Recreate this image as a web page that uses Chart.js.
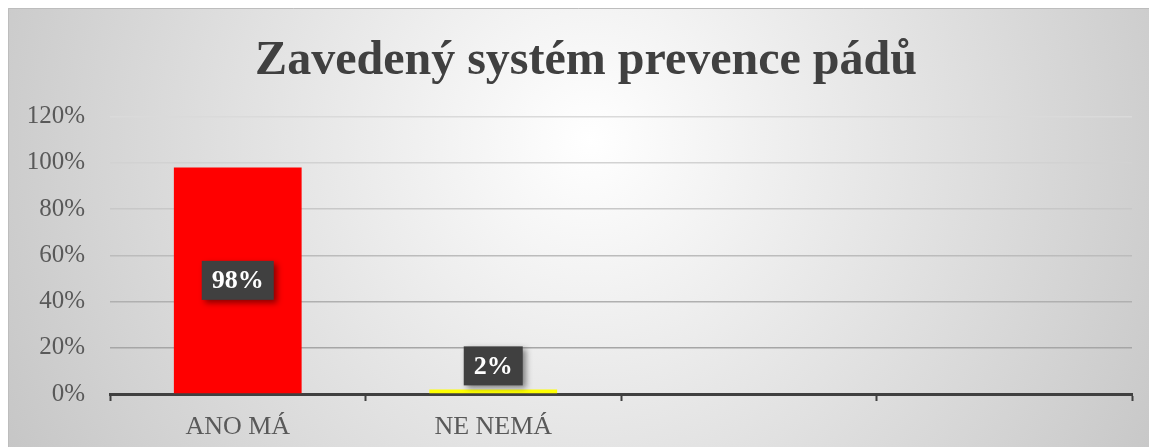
<!DOCTYPE html>
<html>
<head>
<meta charset="utf-8">
<script src="https://cdn.jsdelivr.net/npm/chart.js@4/dist/chart.umd.min.js"></script>
<style>
  html, body { margin: 0; padding: 0; background: #fff; }
  #wrap { width: 1149px; height: 447px; }
</style>
</head>
<body>
<div id="wrap"><canvas id="prevChart"></canvas></div>
<script>
// --- data ---
const kategorie = ['ANO MÁ', 'NE NEMÁ', '', ''];
const hodnoty = [98, 2, null, null];
const barvy = ['#ff0000', '#ffff00', '#ff0000', '#ff0000'];
const osaY = { min: 0, max: 120, krok: 20 };

const SERIF = '"Liberation Serif", "Times New Roman", serif';
const gridBarvy = ['#a0a0a0', '#a6a6a6', '#b0b0b0', '#bcbcbc', '#c8c8c8', '#d2d2d2', '#dadada'];

// pozadi s prechodem + ramecek
const pozadi = {
  id: 'pozadi',
  afterLayout(chart) {
    // nadpis je v originale posunuty trochu doprava
    const t = chart.titleBlock;
    if (t) { t.left += 16; t.right += 16; }
  },
  beforeDraw(chart) {
    const c = chart.ctx;
    c.save();
    c.fillStyle = '#ffffff';
    c.fillRect(0, 0, chart.width, chart.height);
    const g = c.createRadialGradient(590, 140, 0, 590, 140, 660);
    g.addColorStop(0, '#ffffff');
    g.addColorStop(1, '#c6c6c6');
    c.fillStyle = g;
    c.fillRect(8, 8, chart.width - 8, chart.height - 8);
    c.strokeStyle = '#bdbdbd';
    c.lineWidth = 1;
    c.beginPath();
    c.moveTo(8.5, chart.height);
    c.lineTo(8.5, 8.5);
    c.lineTo(chart.width, 8.5);
    c.stroke();
    c.restore();
  }
};

// popisky hodnot v tmavem boxu
const popisky = {
  id: 'popisky',
  afterDatasetsDraw(chart) {
    const c = chart.ctx;
    const meta = chart.getDatasetMeta(0);
    c.save();
    c.font = 'bold 26px ' + SERIF;
    c.textAlign = 'center';
    c.textBaseline = 'middle';
    meta.data.forEach((bar, i) => {
      const v = hodnoty[i];
      if (v == null) return;
      const txt = v + '%';
      const w = c.measureText(txt).width + 20;
      const h = 39;
      const vyska = bar.base - bar.y;
      let cy = (bar.y + bar.base) / 2;
      if (vyska < h + 6) cy = bar.y - 4 - h / 2;
      c.shadowColor = 'rgba(0,0,0,0.45)';
      c.shadowBlur = 6;
      c.shadowOffsetX = 3;
      c.shadowOffsetY = 3;
      c.fillStyle = '#404040';
      c.fillRect(bar.x - w / 2, cy - h / 2, w, h);
      c.shadowColor = 'transparent';
      c.fillStyle = '#ffffff';
      c.fillText(txt, bar.x, cy + 1);
    });
    c.restore();
  }
};

new Chart(document.getElementById('prevChart'), {
  type: 'bar',
  data: {
    labels: kategorie,
    datasets: [{
      data: hodnoty,
      backgroundColor: barvy,
      barPercentage: 0.5,
      categoryPercentage: 1.0
    }]
  },
  options: {
    responsive: true,
    maintainAspectRatio: false,
    animation: false,
    layout: { padding: { top: 8, left: 8, right: 17, bottom: 0 } },
    plugins: {
      legend: { display: false },
      tooltip: { enabled: false },
      title: {
        display: true,
        text: 'Zavedený systém prevence pádů',
        color: '#404040',
        font: { family: SERIF, size: 48, weight: 'bold' },
        padding: { top: 25, bottom: 26 }
      }
    },
    scales: {
      x: {
        grid: {
          drawOnChartArea: false,
          drawTicks: true,
          tickLength: 7,
          tickWidth: 2,
          tickColor: '#404040'
        },
        border: { display: true, color: '#404040', width: 3 },
        ticks: {
          color: '#595959',
          font: { family: SERIF, size: 26 },
          padding: 11,
          maxRotation: 0
        },
        afterFit(axis) { axis.height = 53; }
      },
      y: {
        min: osaY.min,
        max: osaY.max,
        border: { display: false },
        grid: {
          drawTicks: false,
          lineWidth: 1.5,
          color: ctx => gridBarvy[ctx.index] || '#d9d9d9'
        },
        ticks: {
          stepSize: osaY.krok,
          color: '#595959',
          font: { family: SERIF, size: 25 },
          padding: 25,
          callback: v => v + '%'
        },
        afterFit(axis) { axis.width = 102; }
      }
    }
  },
  plugins: [pozadi, popisky]
});
</script>
</body>
</html>
